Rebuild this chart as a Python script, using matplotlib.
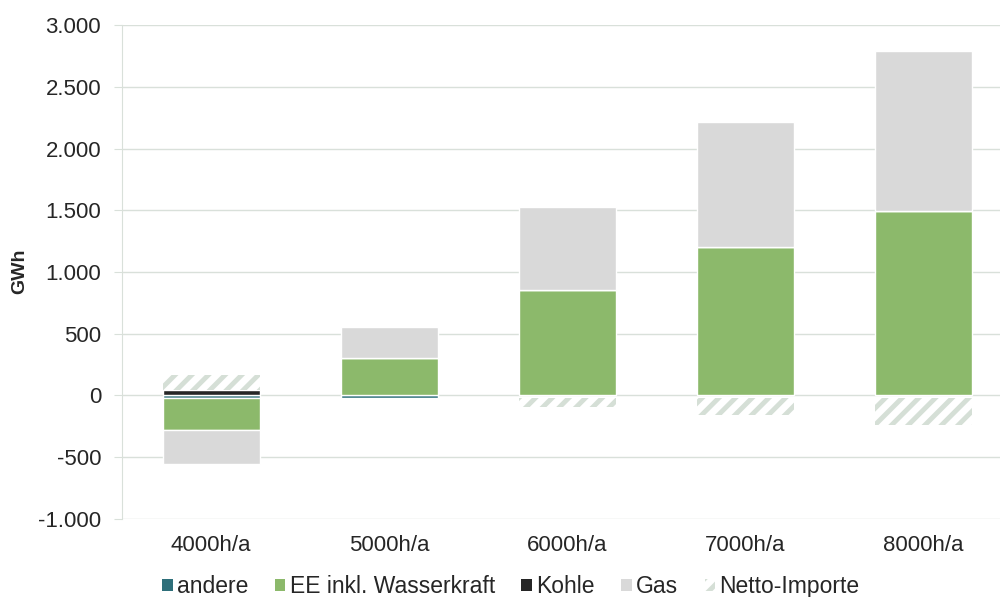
import matplotlib.pyplot as plt
import matplotlib.ticker as mticker
import numpy as np
from matplotlib.patches import Patch

plt.rcParams['font.family'] = ['Liberation Sans', 'DejaVu Sans']
plt.rcParams['hatch.linewidth'] = 3.5

# Daten (GWh)
kategorien = ['4000h/a', '5000h/a', '6000h/a', '7000h/a', '8000h/a']
andere = [-18, -18, 0, 0, 0]
ee = [-265, 305, 850, 1205, 1490]
kohle = [40, 0, 0, 0, 0]
gas = [-275, 245, 680, 1010, 1300]
netto = [125, 0, -75, -140, -220]

serien = ['andere', 'EE inkl. Wasserkraft', 'Kohle', 'Gas', 'Netto-Importe']
farben = ['#2e6f7a', '#8cb96b', '#262626', '#d9d9d9', '#d5dfd6']

fig = plt.figure(figsize=(10, 5.97), dpi=100)
ax = fig.add_axes([0.122, 0.131, 0.878, 0.827])

x = np.arange(len(kategorien))
breite = 0.545
pos = np.zeros(len(x))
neg = np.zeros(len(x))
for name, werte, farbe in zip(serien, [andere, ee, kohle, gas, netto], farben):
    werte = np.array(werte, dtype=float)
    unten = np.where(werte >= 0, pos, neg)
    if name == 'Netto-Importe':
        # kleiner Abstand zur Nulllinie wie im Original
        ax.bar(x, werte, breite, bottom=unten + np.where(werte < 0, -20, 0),
               facecolor='white', edgecolor=farbe, hatch='//', linewidth=0, zorder=3)
    else:
        ax.bar(x, werte, breite, bottom=unten, color=farbe, edgecolor='white',
               linewidth=1.0, zorder=3)
    pos = pos + np.where(werte >= 0, werte, 0)
    neg = neg + np.where(werte < 0, werte, 0)

ax.set_xlim(-0.5, 4.43)
ax.set_ylim(-1000, 3000)
ax.set_yticks(np.arange(-1000, 3001, 500))
ax.yaxis.set_major_formatter(mticker.FuncFormatter(lambda v, p: f'{int(v):,}'.replace(',', '.')))
ax.set_xticks(x)
ax.set_xticklabels(kategorien)

gitter = '#d9e0da'
ax.grid(axis='y', color=gitter, linewidth=1, zorder=0)
for s in ['top', 'right', 'bottom']:
    ax.spines[s].set_visible(False)
ax.spines['left'].set_color(gitter)
ax.tick_params(axis='y', colors=gitter, length=6, labelcolor='#262626', labelsize=16, pad=9)
ax.tick_params(axis='x', length=0, labelcolor='#262626', labelsize=16, pad=12)
fig.text(0.02, 0.545, 'GWh', rotation=90, ha='center', va='center',
         fontsize=14, fontweight='bold', color='#262626')

handles = [Patch(facecolor=f, edgecolor='none') if n != 'Netto-Importe'
           else Patch(facecolor='white', edgecolor=f, hatch='//', linewidth=0)
           for n, f in zip(serien, farben)]
fig.legend(handles, serien, loc='center', bbox_to_anchor=(0.511, 0.017), ncol=5,
           frameon=False, fontsize=16.5, handlelength=0.45, handleheight=0.45,
           handletextpad=0.2, columnspacing=1.15, labelcolor='#262626')

fig.savefig('out.png', dpi=100)
